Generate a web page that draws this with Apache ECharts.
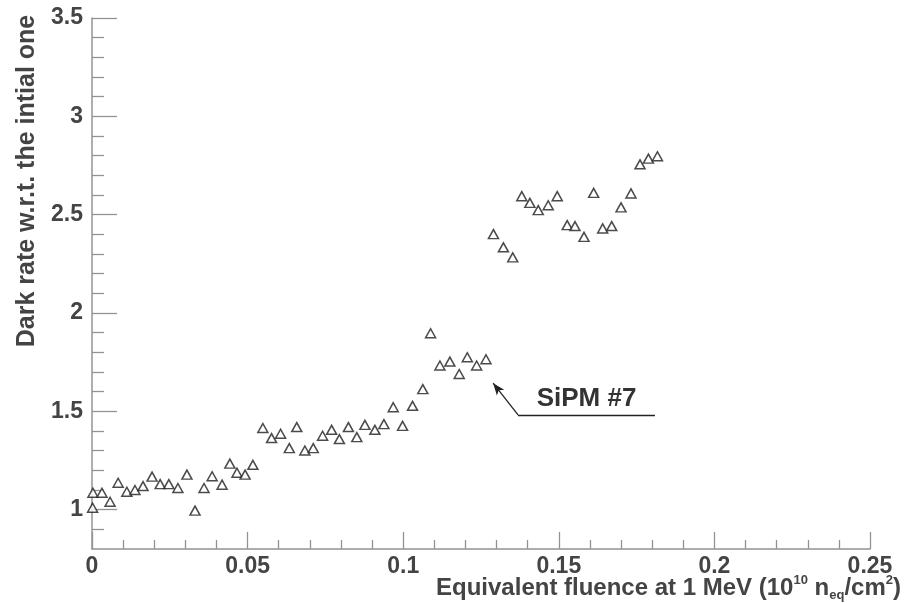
<!DOCTYPE html>
<html>
<head>
<meta charset="utf-8">
<script src="https://cdn.jsdelivr.net/npm/echarts@6/dist/echarts.min.js"></script>
<style>
  html, body { margin: 0; padding: 0; background: #fff; }
  #main { width: 905px; height: 603px; }
</style>
</head>
<body>
<div id="main"></div>
<script>
// fluence (10^10 n_eq/cm^2) and dark rate ratio
var fluence = [
  0.0002, 0.0003, 0.0032, 0.0058, 0.0084, 0.0112, 0.0138, 0.0164, 0.0193, 0.0219,
  0.0247, 0.0276, 0.0305, 0.0331, 0.0360, 0.0386, 0.0418, 0.0443, 0.0466, 0.0492,
  0.0517, 0.0549, 0.0577, 0.0606, 0.0634, 0.0658, 0.0684, 0.0711, 0.0741, 0.0770,
  0.0795, 0.0824, 0.0851, 0.0877, 0.0909, 0.0938, 0.0968, 0.0998, 0.1030, 0.1063,
  0.1088, 0.1118, 0.1150, 0.1180, 0.1206, 0.1236, 0.1266, 0.1290, 0.1322, 0.1352,
  0.1381, 0.1407, 0.1434, 0.1466, 0.1495, 0.1527, 0.1552, 0.1581, 0.1612, 0.1641,
  0.1670, 0.1700, 0.1732, 0.1761, 0.1788, 0.1817
];
var darkRate = [
  1.010, 1.086, 1.086, 1.040, 1.137, 1.091, 1.100, 1.120, 1.168, 1.130,
  1.130, 1.110, 1.178, 0.995, 1.110, 1.170, 1.127, 1.234, 1.188, 1.178,
  1.228, 1.415, 1.364, 1.386, 1.313, 1.420, 1.301, 1.313, 1.376, 1.406,
  1.359, 1.420, 1.369, 1.431, 1.406, 1.435, 1.521, 1.426, 1.528, 1.613,
  1.897, 1.733, 1.753, 1.690, 1.775, 1.733, 1.765, 2.401, 2.334, 2.283,
  2.594, 2.560, 2.523, 2.548, 2.594, 2.447, 2.442, 2.387, 2.611, 2.430,
  2.442, 2.537, 2.608, 2.756, 2.785, 2.797
];
var yMajor = [1, 1.5, 2, 2.5, 3, 3.5];
var yMinor = [0.9, 1.1, 1.2, 1.3, 1.4, 1.6, 1.7, 1.8, 1.9, 2.1, 2.2, 2.3, 2.4,
  2.6, 2.7, 2.8, 2.9, 3.1, 3.2, 3.3, 3.4];

// annotation "SiPM #7": arrow tip, elbow, end of underline (data coords)
var arrowTip = [0.1289, 1.643];
var arrowElbow = [0.1369, 1.482];
var underlineEnd = [0.1809, 1.482];

var data = fluence.map(function (x, i) { return [x, darkRate[i]]; });

var font = 'Liberation Sans, Arial, Helvetica, sans-serif';
var axisGrey = '#939393';
var textCol = '#444';

var chart = echarts.init(document.getElementById('main'));
chart.setOption({
  backgroundColor: '#fff',
  animation: false,
  grid: { left: 92, right: 35, top: 18, bottom: 54 },
  xAxis: {
    type: 'value',
    min: 0,
    max: 0.25,
    interval: 0.05,
    axisLine: { lineStyle: { color: axisGrey, width: 1.5 } },
    axisTick: { inside: true, length: 17, lineStyle: { color: axisGrey, width: 1.3 } },
    minorTick: { show: true, splitNumber: 5, length: 9, lineStyle: { color: axisGrey, width: 1.3 } },
    axisLabel: { color: textCol, fontSize: 23, fontWeight: 'bold', fontFamily: font, margin: 6 },
    splitLine: { show: false }
  },
  yAxis: [{
    type: 'value',
    min: 0.8,
    max: 3.5,
    position: 'left',
    offset: 0,
    axisLine: { show: true, lineStyle: { color: axisGrey, width: 1.5 } },
    axisTick: { show: true, inside: true, length: 25, customValues: yMajor, lineStyle: { color: axisGrey, width: 1.3 } },
    axisLabel: { customValues: yMajor, color: textCol, fontSize: 23, fontWeight: 'bold', fontFamily: font, margin: 9 },
    splitLine: { show: false }
  }, {
    type: 'value',
    min: 0.8,
    max: 3.5,
    position: 'left',
    offset: 0,
    axisLine: { show: false },
    axisTick: { show: true, inside: true, length: 12, customValues: yMinor, lineStyle: { color: axisGrey, width: 1.3 } },
    axisLabel: { show: false },
    splitLine: { show: false }
  }],
  graphic: [{
    type: 'text',
    x: 27,
    y: 181,
    rotation: Math.PI / 2,
    style: {
      text: 'Dark rate w.r.t. the intial one',
      fontSize: 25,
      fontWeight: 'bold',
      fontFamily: font,
      fill: textCol,
      align: 'center',
      verticalAlign: 'middle'
    }
  }, {
    type: 'text',
    x: 901,
    y: 588,
    style: {
      text: 'Equivalent fluence at 1 MeV (10{sup|10} n{sub|eq}/cm{sup|2})',
      fontSize: 24,
      fontWeight: 'bold',
      fontFamily: font,
      fill: textCol,
      align: 'right',
      verticalAlign: 'middle',
      rich: {
        sup: { fontSize: 13, fontWeight: 'bold', fontFamily: font, fill: textCol, verticalAlign: 'top', lineHeight: 28 },
        sub: { fontSize: 13, fontWeight: 'bold', fontFamily: font, fill: textCol, verticalAlign: 'bottom', lineHeight: 28 }
      }
    }
  }],
  series: [{
    type: 'scatter',
    data: data,
    symbol: 'triangle',
    symbolSize: [10, 9],
    itemStyle: { color: '#fff', borderColor: '#1e1e1e', borderWidth: 1.5 },
    markLine: {
      silent: true,
      animation: false,
      symbol: 'none',
      lineStyle: { color: '#222', width: 1.3, type: 'solid' },
      label: { show: false },
      data: [
        [{ coord: arrowElbow }, { coord: underlineEnd,
          label: { show: true, position: 'insideMiddleTop', formatter: 'SiPM #7', fontSize: 26,
            fontWeight: 'bold', fontFamily: font, color: '#333', distance: 3 } }],
        [{ coord: arrowElbow }, { coord: arrowTip, symbol: 'arrow', symbolSize: [7, 12],
          lineStyle: { color: '#222' } }]
      ]
    }
  }]
});
</script>
</body>
</html>
